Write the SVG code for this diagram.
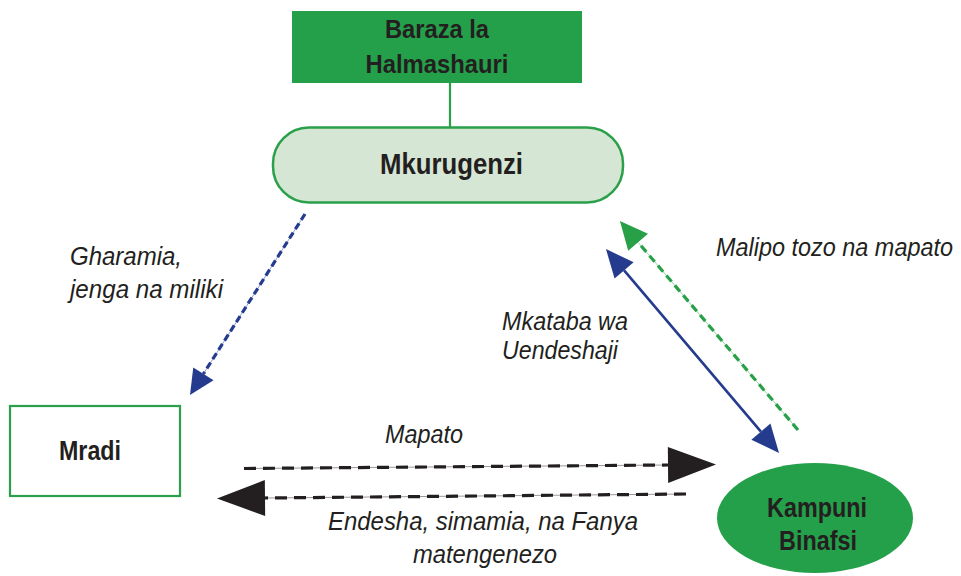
<svg xmlns="http://www.w3.org/2000/svg" width="961" height="576" viewBox="0 0 961 576">
<style>
.bold{font-family:"Liberation Sans Narrow","Arial Narrow","Liberation Sans",Arial,sans-serif;font-weight:bold;fill:#231f20;text-anchor:middle}
.lbl{font-family:"Liberation Sans Narrow","Arial Narrow","Liberation Sans",Arial,sans-serif;font-style:italic;fill:#231f20;font-size:26px}
.under{fill:none;stroke-width:1}
.dash{fill:none;stroke-width:3.2}
</style>
<defs>
<marker id="ahBlueS" markerUnits="userSpaceOnUse" orient="auto" overflow="visible" markerWidth="1" markerHeight="1" refX="0" refY="0"><path d="M0,-12 L25,0 L0,12 z" fill="#243b8e"/></marker>
<marker id="ahBlue" markerUnits="userSpaceOnUse" orient="auto-start-reverse" overflow="visible" markerWidth="1" markerHeight="1" refX="0" refY="0"><path d="M0,-12.5 L28,0 L0,12.5 z" fill="#243b8e"/></marker>
<marker id="ahGreen" markerUnits="userSpaceOnUse" orient="auto" overflow="visible" markerWidth="1" markerHeight="1" refX="0" refY="0"><path d="M0,-13 L28,0 L0,13 z" fill="#27a048"/></marker>
<marker id="ahBlack" markerUnits="userSpaceOnUse" orient="auto" overflow="visible" markerWidth="1" markerHeight="1" refX="0" refY="0"><path d="M0,-18 L48,0 L0,18 z" fill="#231f20"/></marker>
</defs>

<g id="connectors">
  <line x1="450" y1="83" x2="450" y2="127" stroke="#27a048" stroke-width="2.2"/>
  <!-- Mkurugenzi -> Mradi -->
  <line class="under" x1="305" y1="214" x2="203.4" y2="373.9" stroke="#8fa0d0"/>
  <line class="dash" x1="305" y1="214" x2="203.4" y2="373.9" stroke="#243b8e" stroke-dasharray="7 4" marker-end="url(#ahBlueS)"/>
  <!-- Mkataba wa Uendeshaji double arrow -->
  <line x1="624.1" y1="270.4" x2="760.9" y2="431.6" stroke="#243b8e" stroke-width="2.6" marker-start="url(#ahBlue)" marker-end="url(#ahBlue)"/>
  <!-- Malipo -->
  <line class="under" x1="798" y1="430" x2="638.1" y2="242.3" stroke="#9bd3a8"/>
  <line class="dash" x1="798" y1="430" x2="638.1" y2="242.3" stroke="#27a048" stroke-dasharray="8 5" marker-end="url(#ahGreen)"/>
  <!-- Mapato -->
  <line class="under" x1="244" y1="468.5" x2="668" y2="465" stroke="#9a9a9a"/>
  <line class="dash" x1="244" y1="468.5" x2="668" y2="465" stroke="#231f20" stroke-dasharray="12 7" marker-end="url(#ahBlack)"/>
  <!-- Endesha -->
  <line class="under" x1="686" y1="494" x2="265" y2="498" stroke="#9a9a9a"/>
  <line class="dash" x1="686" y1="494" x2="265" y2="498" stroke="#231f20" stroke-dasharray="12 7" marker-end="url(#ahBlack)"/>
</g>

<g id="baraza">
  <rect x="292" y="11" width="290" height="72" fill="#25a04a"/>
  <text class="bold" x="437" y="38" font-size="26" textLength="104" lengthAdjust="spacingAndGlyphs">Baraza la</text>
  <text class="bold" x="437" y="73" font-size="26" textLength="143" lengthAdjust="spacingAndGlyphs">Halmashauri</text>
</g>

<g id="mkurugenzi">
  <rect x="273" y="127.5" width="350" height="75" rx="36" ry="36" fill="#d6e6d4" stroke="#2aa04a" stroke-width="2.5"/>
  <text class="bold" x="451.5" y="174" font-size="29" textLength="143" lengthAdjust="spacingAndGlyphs">Mkurugenzi</text>
</g>

<g id="mradi">
  <rect x="10" y="406" width="170" height="90" fill="#ffffff" stroke="#2aa04a" stroke-width="2.2"/>
  <text class="bold" x="90" y="460" font-size="28" textLength="62" lengthAdjust="spacingAndGlyphs">Mradi</text>
</g>

<g id="kampuni">
  <ellipse cx="815" cy="518" rx="98" ry="55" fill="#25a04a"/>
  <text class="bold" x="817" y="517" font-size="27" textLength="100" lengthAdjust="spacingAndGlyphs">Kampuni</text>
  <text class="bold" x="818" y="550" font-size="27" textLength="78" lengthAdjust="spacingAndGlyphs">Binafsi</text>
</g>

<g id="labels">
  <text class="lbl" x="70" y="265" textLength="112" lengthAdjust="spacingAndGlyphs">Gharamia,</text>
  <text class="lbl" x="70" y="298" textLength="153" lengthAdjust="spacingAndGlyphs">jenga na miliki</text>
  <text class="lbl" x="716" y="256" textLength="237" lengthAdjust="spacingAndGlyphs">Malipo tozo na mapato</text>
  <text class="lbl" x="502" y="330" textLength="126" lengthAdjust="spacingAndGlyphs">Mkataba wa</text>
  <text class="lbl" x="502" y="359" textLength="116" lengthAdjust="spacingAndGlyphs">Uendeshaji</text>
  <text class="lbl" x="385" y="443" textLength="78" lengthAdjust="spacingAndGlyphs">Mapato</text>
  <text class="lbl" x="328" y="530" textLength="310" lengthAdjust="spacingAndGlyphs">Endesha, simamia, na Fanya</text>
  <text class="lbl" x="413" y="563" textLength="144" lengthAdjust="spacingAndGlyphs">matengenezo</text>
</g>
</svg>
